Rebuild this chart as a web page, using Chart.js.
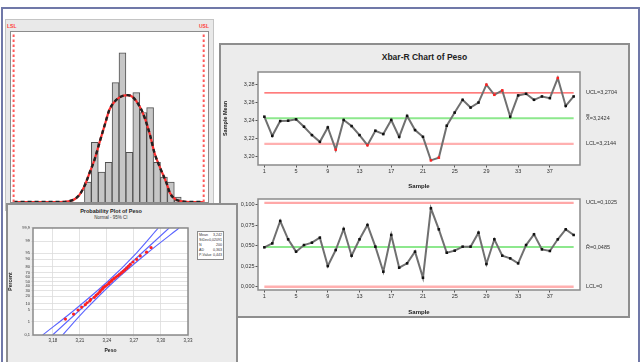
<!DOCTYPE html>
<html>
<head>
<meta charset="utf-8">
<script src="https://cdn.jsdelivr.net/npm/chart.js@4.4.1/dist/chart.umd.min.js"></script>
<style>
html, body { margin: 0; padding: 0; background: #fff; width: 644px; height: 362px; overflow: hidden; font-family: "Liberation Sans", Arial, sans-serif; }
.abs { position: absolute; box-sizing: border-box; }
#frame { left: 1px; top: 7px; width: 639px; height: 370px; border: 2px solid #7078a8; }
#histPanel { left: 5px; top: 19px; width: 209px; height: 192px; background: #e9e9e9; border: 1px solid #c4c4c4; }
#histBox { left: 10px; top: 31px; width: 199px; height: 172px; background: #fff; border: 1px solid #8c8c8c; }
.spec { color: #ff4040; font-size: 5px; font-weight: bold; top: 23px; }
#ctrlPanel { left: 219px; top: 43px; width: 411px; height: 275px; background: #ececec; border: 2px solid #8e8e8e; }
#ctrlTitle { left: 219px; top: 52px; width: 411px; text-align: center; font-size: 8.5px; font-weight: bold; color: #222; }
#probPanel { left: 6px; top: 203px; width: 232px; height: 165px; background: #ececec; border: 2px solid #8e8e8e; z-index: 5; }
#probTitle { left: 33px; top: 208px; width: 156px; text-align: center; font-size: 5.5px; font-weight: bold; color: #222; z-index: 6; }
#probSub { left: 33px; top: 215px; width: 156px; text-align: center; font-size: 4.5px; color: #333; z-index: 6; }
#probLegend { left: 197px; top: 231px; width: 27px; height: 29px; background: #fff; border: 1px solid #8a8a8a; z-index: 6; font-size: 3.6px; color: #333; padding: 1px; line-height: 5px; }
#probLegend div { display: flex; justify-content: space-between; }
canvas { position: absolute; }
</style>
</head>
<body>
<div id="frame" class="abs"></div>

<div id="histPanel" class="abs"></div>
<div id="histBox" class="abs"></div>
<div class="abs spec" style="left:7px;">LSL</div>
<div class="abs spec" style="left:199px;">USL</div>
<canvas id="histChart" width="197" height="170" style="left:11px; top:32px;"></canvas>

<div id="ctrlPanel" class="abs"></div>
<div id="ctrlTitle" class="abs">Xbar-R Chart of Peso</div>
<canvas id="xbarChart" width="406" height="126" style="left:222px; top:64px;"></canvas>
<canvas id="rChart" width="406" height="125" style="left:222px; top:191px;"></canvas>

<div id="probPanel" class="abs"></div>
<div id="probTitle" class="abs">Probability Plot of Peso</div>
<div id="probSub" class="abs">Normal - 95% CI</div>
<canvas id="probChart" width="200" height="132" style="left:7px; top:222px; z-index:6;"></canvas>
<div id="probLegend" class="abs">
  <div><span>Mean</span><span>3,242</span></div>
  <div><span>StDev</span><span>0,02091</span></div>
  <div><span>N</span><span>200</span></div>
  <div><span>AD</span><span>0,363</span></div>
  <div><span>P-Value</span><span>0,443</span></div>
</div>

<script>
// ---- histogram data ----
const specLimits = [3.11, 3.33];
const histBins = [3.196, 3.204, 3.212, 3.220, 3.228, 3.236, 3.244, 3.252, 3.260, 3.268, 3.276, 3.284, 3.292, 3.300];
const histCounts = [4, 12, 6, 8, 24, 30, 10, 22, 18, 19, 8, 5, 4, 1];
const curveX = [3.110, 3.163, 3.175, 3.181, 3.186, 3.192, 3.198, 3.204, 3.210, 3.216, 3.221, 3.227, 3.233, 3.242, 3.248, 3.256, 3.262, 3.268, 3.273, 3.280, 3.287, 3.291, 3.297, 3.303, 3.315, 3.330];
const curveY = [0, 0, 0.2, 0.6, 1.4, 3.2, 5.9, 8.7, 12.3, 15.8, 18.6, 20.2, 21.1, 21.5, 21.1, 19.2, 16.8, 13.4, 9.9, 6.7, 3.8, 1.8, 0.6, 0.2, 0, 0];

// ---- Xbar-R data ----
const samples = [1, 2, 3, 4, 5, 6, 7, 8, 9, 10, 11, 12, 13, 14, 15, 16, 17, 18, 19, 20,
                 21, 22, 23, 24, 25, 26, 27, 28, 29, 30, 31, 32, 33, 34, 35, 36, 37, 38, 39, 40];
const sampleTicks = [1, 5, 9, 13, 17, 21, 25, 29, 33, 37];
const xbarValues = [3.2442, 3.2232, 3.2394, 3.2398, 3.2413, 3.2332, 3.2240, 3.2166, 3.2324, 3.2081,
                    3.2406, 3.2339, 3.2240, 3.2129, 3.2288, 3.2251, 3.2406, 3.2221, 3.2450, 3.2295,
                    3.2221, 3.1963, 3.1993, 3.2343, 3.2487, 3.2627, 3.2542, 3.2597, 3.2793, 3.2682,
                    3.2730, 3.2442, 3.2675, 3.2693, 3.2627, 3.2664, 3.2645, 3.2866, 3.2560, 3.2664];
const xbarFlagged = [10, 14, 22, 23, 29, 30, 31, 38];
const xbarLimits = { ucl: 3.2704, center: 3.2424, lcl: 3.2144 };
const xbarTicks = [3.20, 3.22, 3.24, 3.26, 3.28];
const rangeValues = [0.0482, 0.0530, 0.0804, 0.0580, 0.0429, 0.0510, 0.0539, 0.0600, 0.0253, 0.0449,
                     0.0706, 0.0380, 0.0580, 0.0755, 0.0490, 0.0184, 0.0633, 0.0233, 0.0286, 0.0429,
                     0.0110, 0.0959, 0.0702, 0.0416, 0.0441, 0.0490, 0.0490, 0.0661, 0.0278, 0.0580,
                     0.0380, 0.0347, 0.0286, 0.0510, 0.0641, 0.0457, 0.0437, 0.0580, 0.0702, 0.0633];
const rangeLimits = { ucl: 0.1025, center: 0.0485, lcl: 0 };
const rangeTicks = [0, 0.025, 0.05, 0.075, 0.1];

// ---- probability plot data ----
const probXTicks = [3.18, 3.21, 3.24, 3.27, 3.30, 3.33];
const percentTicks = [0.1, 1, 5, 10, 20, 30, 40, 50, 60, 70, 80, 90, 95, 99, 99.9];
const probValues = [3.194, 3.203, 3.208, 3.212, 3.216, 3.218, 3.221, 3.222, 3.226, 3.228, 3.230, 3.232,
                    3.233, 3.235, 3.236, 3.238, 3.240, 3.242, 3.243, 3.245, 3.246, 3.248, 3.250, 3.252,
                    3.254, 3.256, 3.258, 3.260, 3.262, 3.264, 3.266, 3.269, 3.273, 3.277, 3.284, 3.289];
const probPercents = [1.5, 3, 5, 7, 9, 11, 13, 15, 18, 21, 24, 27, 30, 33, 36, 39, 42, 45, 48, 51,
                      54, 57, 60, 63, 66, 69, 72, 75, 78, 81, 84, 87, 90, 93, 95.5, 97.5];
const fitPercents = [0.1, 5, 50, 95, 99.9];
const fitValues = [3.1798, 3.2100, 3.2444, 3.2788, 3.3090];
const ciLowValues = [3.1688, 3.2040, 3.2409, 3.2728, 3.2970];
const ciHighValues = [3.1908, 3.2160, 3.2479, 3.2848, 3.3200];

const comma = (v, d) => v.toFixed(d).replace('.', ',');

// inverse normal CDF, used to put percents on the normal probability axis
function probit(p) {
    const a = [-39.69683028665376, 220.9460984245205, -275.9285104469687, 138.3577518672690, -30.66479806614716, 2.506628277459239];
    const b = [-54.47609879822406, 161.5858368580409, -155.6989798598866, 66.80131188771972, -13.28068155211639];
    const c = [-0.007784894002430293, -0.3223964580411365, -2.400758277161838, -2.549732539343734, 4.374664141464968, 2.938163982698783];
    const d = [0.007784695709041462, 0.3224671290700398, 2.445134137142996, 3.754408661907416];
    const pl = 0.02425;
    if (p < pl) {
        const q = Math.sqrt(-2 * Math.log(p));
        return (((((c[0]*q+c[1])*q+c[2])*q+c[3])*q+c[4])*q+c[5]) / ((((d[0]*q+d[1])*q+d[2])*q+d[3])*q+1);
    }
    if (p > 1 - pl) {
        const q = Math.sqrt(-2 * Math.log(1 - p));
        return -(((((c[0]*q+c[1])*q+c[2])*q+c[3])*q+c[4])*q+c[5]) / ((((d[0]*q+d[1])*q+d[2])*q+d[3])*q+1);
    }
    const q = p - 0.5, r = q * q;
    return (((((a[0]*r+a[1])*r+a[2])*r+a[3])*r+a[4])*r+a[5])*q / (((((b[0]*r+b[1])*r+b[2])*r+b[3])*r+b[4])*r+1);
}

const tickFont = { family: '"Liberation Sans", Arial, sans-serif', size: 5.5 };

// white plot area with a gray border
const plotBox = {
    id: 'plotBox',
    beforeDraw(chart) {
        const { ctx, chartArea: a } = chart;
        ctx.save();
        ctx.fillStyle = '#fff';
        ctx.fillRect(a.left, a.top, a.right - a.left, a.bottom - a.top);
        ctx.restore();
    },
    afterDraw(chart) {
        const { ctx, chartArea: a } = chart;
        ctx.save();
        ctx.strokeStyle = '#8a8a8a';
        ctx.lineWidth = 1.5;
        ctx.strokeRect(a.left, a.top, a.right - a.left, a.bottom - a.top);
        ctx.restore();
    }
};

// control-limit labels to the right of the plot
const limitLabels = {
    id: 'limitLabels',
    afterDraw(chart, args, opts) {
        const { ctx, chartArea: a, scales } = chart;
        ctx.save();
        ctx.font = '5.5px "Liberation Sans", Arial, sans-serif';
        ctx.fillStyle = '#333';
        ctx.textBaseline = 'middle';
        opts.items.forEach(it => {
            ctx.fillText(it.text, a.right + 6, scales.y.getPixelForValue(it.value));
        });
        ctx.restore();
    }
};

const fixAxis = (size) => (s) => {
    if (s.isHorizontal()) s.height = size; else s.width = size;
    s.paddingLeft = 0; s.paddingRight = 0; s.paddingTop = 0; s.paddingBottom = 0;
};

// ---------- histogram ----------
new Chart(document.getElementById('histChart'), {
    type: 'bar',
    data: {
        datasets: [
            ...specLimits.map(v => ({
                type: 'line', order: 0,
                data: [{ x: v, y: 0 }, { x: v, y: 34.2 }],
                borderColor: '#ff5a5a', borderWidth: 2, borderDash: [2.5, 2.5], pointRadius: 0
            })),
            {
                type: 'line', order: 1,
                data: curveX.map((x, i) => ({ x, y: curveY[i] })),
                borderColor: '#222', borderWidth: 2.4, borderDash: [4, 3],
                pointRadius: 0, cubicInterpolationMode: 'monotone'
            },
            {
                type: 'line', order: 2,
                data: curveX.map((x, i) => ({ x, y: curveY[i] })),
                borderColor: '#ff3030', borderWidth: 2.2,
                pointRadius: 0, cubicInterpolationMode: 'monotone'
            },
            {
                type: 'bar', order: 3,
                data: histBins.map((x, i) => ({ x, y: histCounts[i] })),
                backgroundColor: '#c6c6c6', borderColor: '#505050', borderWidth: 1,
                barPercentage: 1, categoryPercentage: 1
            }
        ]
    },
    options: {
        responsive: false, animation: false,
        layout: { padding: 0 },
        plugins: { legend: { display: false }, tooltip: { enabled: false } },
        scales: {
            x: { type: 'linear', min: 3.107, max: 3.335, offset: false, display: false },
            y: { min: 0, max: 34.2, display: false }
        }
    }
});

// ---------- Xbar and R charts ----------
function controlChart(id, values, limits, yTicks, yMin, yMax, decimals, yTitle, flagged, labels, xAxisH) {
    const line = (v, color, w) => ({
        data: [{ x: samples[0], y: v }, { x: samples[samples.length - 1], y: v }],
        borderColor: color, borderWidth: w, pointRadius: 0
    });
    return new Chart(document.getElementById(id), {
        type: 'line',
        data: {
            labels: samples,
            datasets: [
                {
                    data: values,
                    borderColor: '#707070', borderWidth: 2,
                    pointStyle: 'rect', pointRadius: 1.8, pointBorderWidth: 0,
                    pointBackgroundColor: ctx => flagged.includes(ctx.dataIndex + 1) ? '#ff2020' : '#111',
                    order: 0
                },
                Object.assign(line(limits.ucl, limits.uclColor, limits.uclWidth), { order: 3 }),
                Object.assign(line(limits.center, '#8de88d', 2), { order: 2 }),
                Object.assign(line(limits.lcl, '#ffb0b0', 2.4), { order: 1 })
            ]
        },
        options: {
            responsive: false, animation: false,
            layout: { padding: { top: 8, right: 48, left: 0, bottom: 0 } },
            plugins: {
                legend: { display: false }, tooltip: { enabled: false },
                limitLabels: { items: labels }
            },
            scales: {
                x: {
                    type: 'linear', min: 0.2, max: 40.8,
                    afterBuildTicks: s => { s.ticks = sampleTicks.map(v => ({ value: v })); },
                    afterFit: fixAxis(xAxisH),
                    ticks: { font: tickFont, color: '#333', padding: 1, maxRotation: 0 },
                    grid: { drawOnChartArea: false, tickLength: 2.5, color: '#555' },
                    border: { display: false },
                    title: { display: true, text: 'Sample', font: { size: 6, weight: 'bold' }, color: '#222', padding: 0 }
                },
                y: {
                    min: yMin, max: yMax,
                    afterBuildTicks: s => { s.ticks = yTicks.map(v => ({ value: v })); },
                    afterFit: fixAxis(36),
                    ticks: { font: tickFont, color: '#333', padding: 1, callback: v => comma(v, decimals) },
                    grid: { drawOnChartArea: false, tickLength: 2.5, color: '#555' },
                    border: { display: false },
                    title: { display: !!yTitle, text: yTitle, font: { size: 5.5, weight: 'bold' }, color: '#222', padding: 0 }
                }
            }
        },
        plugins: [plotBox, limitLabels]
    });
}

controlChart('xbarChart', xbarValues,
    Object.assign({ uclColor: '#ff5050', uclWidth: 1.3 }, xbarLimits),
    xbarTicks, 3.1912, 3.2932, 2, 'Sample Mean', xbarFlagged,
    [
        { text: 'UCL=' + comma(xbarLimits.ucl, 4), value: xbarLimits.ucl },
        { text: 'X\u033F=' + comma(xbarLimits.center, 4), value: xbarLimits.center },
        { text: 'LCL=' + comma(xbarLimits.lcl, 4), value: xbarLimits.lcl }
    ], 25);

controlChart('rChart', rangeValues,
    Object.assign({ uclColor: '#ffa8a8', uclWidth: 2.4 }, rangeLimits),
    rangeTicks, -0.004, 0.1073, 3, 'Sample Range', [],
    [
        { text: 'UCL=' + comma(rangeLimits.ucl, 4), value: rangeLimits.ucl },
        { text: 'R\u0304=' + comma(rangeLimits.center, 4), value: rangeLimits.center },
        { text: 'LCL=0', value: rangeLimits.lcl }
    ], 26);

// ---------- probability plot ----------
const zPts = (vals, pcts) => vals.map((x, i) => ({ x, y: probit(pcts[i] / 100) }));
new Chart(document.getElementById('probChart'), {
    type: 'scatter',
    data: {
        datasets: [
            { data: zPts(probValues, probPercents), backgroundColor: '#ff2020', borderWidth: 0, pointRadius: 1.6, order: 0 },
            { type: 'line', data: zPts(ciLowValues, fitPercents), borderColor: '#5a64ff', borderWidth: 1.1, pointRadius: 0, tension: 0.3, order: 1 },
            { type: 'line', data: zPts(fitValues, fitPercents), borderColor: '#5a64ff', borderWidth: 1.1, pointRadius: 0, order: 1 },
            { type: 'line', data: zPts(ciHighValues, fitPercents), borderColor: '#5a64ff', borderWidth: 1.1, pointRadius: 0, tension: 0.3, order: 1 }
        ]
    },
    options: {
        responsive: false, animation: false,
        layout: { padding: { top: 6, right: 19, left: 0, bottom: 0 } },
        plugins: { legend: { display: false }, tooltip: { enabled: false } },
        scales: {
            x: {
                type: 'linear', min: 3.158, max: 3.33,
                afterBuildTicks: s => { s.ticks = probXTicks.map(v => ({ value: v })); },
                afterFit: fixAxis(19),
                ticks: { font: { size: 4.5 }, color: '#333', padding: 1, maxRotation: 0, callback: v => comma(v, 2) },
                grid: { color: '#dcdcdc', tickLength: 2, lineWidth: 0.8 },
                border: { display: false },
                title: { display: true, text: 'Peso', font: { size: 5, weight: 'bold' }, color: '#222', padding: 0 }
            },
            y: {
                min: probit(0.001), max: probit(0.999),
                afterBuildTicks: s => { s.ticks = percentTicks.map(p => ({ value: probit(p / 100) })); },
                afterFit: fixAxis(26),
                ticks: { font: { size: 4 }, color: '#333', padding: 1, autoSkip: false,
                         callback: (v, i) => String(percentTicks[i]).replace('.', ',') },
                grid: { color: '#dcdcdc', tickLength: 2, lineWidth: 0.8 },
                border: { display: false },
                title: { display: true, text: 'Percent', font: { size: 5, weight: 'bold' }, color: '#222', padding: 1 }
            }
        }
    },
    plugins: [plotBox]
});
</script>
</body>
</html>
